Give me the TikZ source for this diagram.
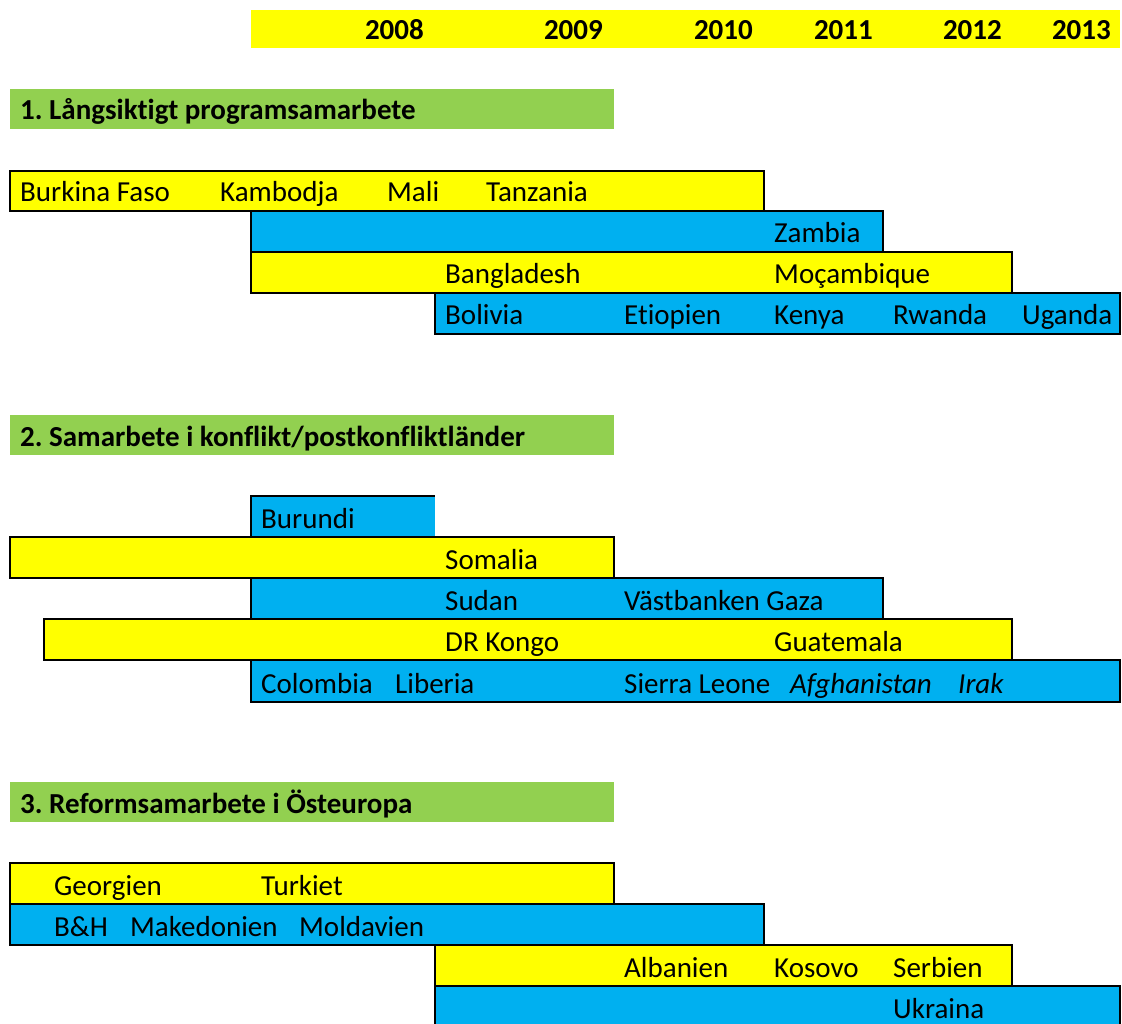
\documentclass[tikz,border=0pt]{standalone}
\usepackage{fontspec}
\setmainfont[Ligatures={NoCommon}]{Carlito}
\frenchspacing
\definecolor{ylw}{HTML}{FFFF00}
\definecolor{blu}{HTML}{00B0F0}
\definecolor{grn}{HTML}{92D050}
\tikzset{
  barbox/.style={draw=black, line width=2pt, inner sep=0pt, outer sep=0pt, anchor=north west},
  band/.style={draw=none, inner sep=0pt, outer sep=0pt, anchor=north west},
  lab/.style={inner sep=0pt, anchor=base west, font=\fontsize{29}{34}\selectfont},
  blab/.style={inner sep=0pt, anchor=base west, font=\fontsize{29}{34}\selectfont\bfseries},
  yr/.style={inner sep=0pt, anchor=base east, font=\fontsize{29}{34}\selectfont\bfseries}
}
% \gb{name}{colour}{x1}{y1}{x2}{y2}
\newcommand\gb[6]{\pgfmathsetmacro\gbw{#5-#3}\pgfmathsetmacro\gbh{#6-#4}%
  \node[barbox, fill=#2, minimum width=\gbw pt, minimum height=\gbh pt] (#1) at (#3,#4) {};}
\newcommand\gband[6]{\pgfmathsetmacro\gbw{#5-#3}\pgfmathsetmacro\gbh{#6-#4}%
  \node[band, fill=#2, minimum width=\gbw pt, minimum height=\gbh pt] (#1) at (#3,#4) {};}
\begin{document}
\begin{tikzpicture}[x=1pt,y=-1pt]
\useasboundingbox (0,0) rectangle (1122,1024);
\clip (0,0) rectangle (1122,1024);
% header
\gband{hdr}{ylw}{251}{10}{1120}{48}
\node[yr] (y08) at (424,40) {2008};
\node[yr] (y09) at (603,40) {2009};
\node[yr] (y10) at (753,40) {2010};
\node[yr] (y11) at (873,40) {2011};
\node[yr] (y12) at (1002,40) {2012};
\node[yr] (y13) at (1111,40) {2013};
% section 1
\gband{t1}{grn}{10}{89}{614}{129}
\node[blab] (t1l) at (20,120) {1. Långsiktigt programsamarbete};
\gb{a1}{ylw}{10}{171}{764}{211}
\gb{a2}{blu}{251}{211}{883}{252}
\gb{a3}{ylw}{251}{252}{1012}{293}
\gb{a4}{blu}{435}{293}{1120}{334}
\node[lab] (bf) at (20,202) {Burkina Faso};
\node[lab] (kb) at (220,202) {Kambodja};
\node[lab] (ml) at (387,202) {Mali};
\node[lab] (tz) at (486,202) {Tanzania};
\node[lab] (zm) at (774,243) {Zambia};
\node[lab] (bd) at (445,284) {Bangladesh};
\node[lab] (mq) at (774,284) {Moçambique};
\node[lab] (bo) at (445,325) {Bolivia};
\node[lab] (et) at (624,325) {Etiopien};
\node[lab] (ke) at (774,325) {Kenya};
\node[lab] (rw) at (893,325) {Rwanda};
\node[lab] (ug) at (1022,325) {Uganda};
% section 2
\gband{t2}{grn}{10}{415}{614}{455}
\node[blab] (t2l) at (20,446) {2. Samarbete i konflikt/postkonfliktländer};
\fill[blu] (251,496) rectangle (435,537);
\coordinate (bua) at (251,537);
\coordinate (bub) at (251,496);
\coordinate (buc) at (435,496);
\draw[line width=2pt] (bua) -- (bub) -- (buc);
\gb{b2}{ylw}{10}{537}{614}{578}
\gb{b3}{blu}{251}{578}{883}{619}
\gb{b4}{ylw}{44}{619}{1012}{660}
\gb{b5}{blu}{251}{660}{1120}{702}
\node[lab] (bu) at (261,528) {Burundi};
\node[lab] (so) at (445,569) {Somalia};
\node[lab] (su) at (445,610) {Sudan};
\node[lab] (vg) at (624,610) {Västbanken Gaza};
\node[lab] (dr) at (445,651) {DR Kongo};
\node[lab] (gu) at (774,651) {Guatemala};
\node[lab] (co) at (261,693) {Colombia};
\node[lab] (li) at (395,693) {Liberia};
\node[lab] (sl) at (624,693) {Sierra Leone};
\node[lab] (af) at (790,693) {\itshape Afghanistan};
\node[lab] (ir) at (958,693) {\itshape Irak};
% section 3
\gband{t3}{grn}{10}{782}{614}{822}
\node[blab] (t3l) at (20,813) {3. Reformsamarbete i Östeuropa};
\gb{c1}{ylw}{10}{863}{614}{904}
\gb{c2}{blu}{10}{904}{764}{945}
\gb{c3}{ylw}{435}{945}{1012}{986}
\gb{c4}{blu}{435}{986}{1120}{1040}
\node[lab] (ge) at (54,895) {Georgien};
\node[lab] (tu) at (261,895) {Turkiet};
\node[lab] (bh) at (54,936) {B\&H};
\node[lab] (mk) at (130,936) {Makedonien};
\node[lab] (mo) at (299,936) {Moldavien};
\node[lab] (al) at (624,977) {Albanien};
\node[lab] (ks) at (774,977) {Kosovo};
\node[lab] (sb) at (893,977) {Serbien};
\node[lab] (uk) at (893,1018) {Ukraina};
\end{tikzpicture}
\end{document}
